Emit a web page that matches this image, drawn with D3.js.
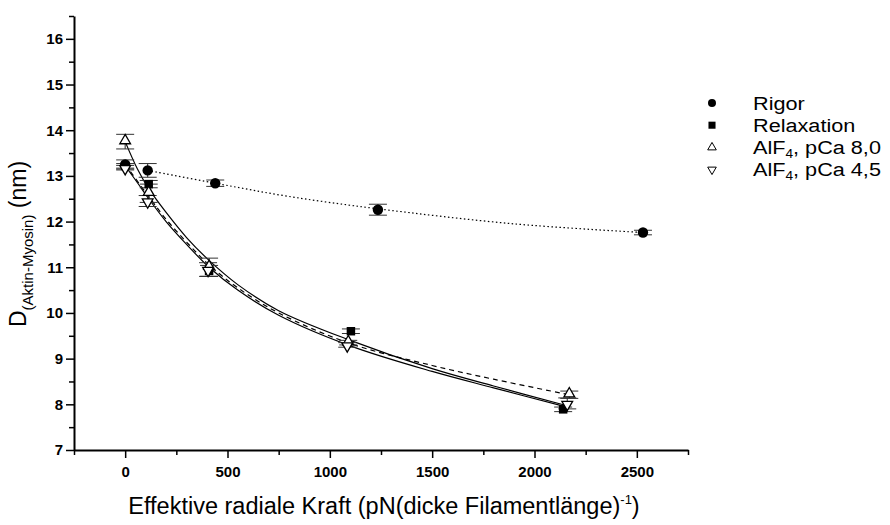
<!DOCTYPE html>
<html>
<head>
<meta charset="utf-8">
<script src="https://cdn.jsdelivr.net/npm/d3@7"></script>
<style>
  body { margin: 0; background: #fff; }
  svg { display: block; }
  .tick text { font-family: "Liberation Sans Narrow", "Liberation Sans", Arial, sans-serif; font-weight: bold; font-size: 15px; fill: #000; }
  .axis path, .axis line { stroke: #000; }
</style>
</head>
<body>
<div id="chart"></div>
<script>
// measured series (x = force, y = distance, e = error)
const rigorX = [0, 110, 440, 1235, 2530];
const rigorY = [13.25, 13.12, 12.84, 12.26, 11.76];
const rigorE = [0.1, 0.15, 0.07, 0.12, 0.05];

const relaxX = [0, 115, 410, 1103, 2140];
const relaxY = [13.22, 12.82, 10.92, 9.6, 7.89];
const relaxE = [0.05, 0.08, 0.12, 0.05, 0.05];

const pca80X = [0, 115, 410, 1090, 2170];
const pca80Y = [13.75, 12.62, 11.0, 9.35, 8.21];
const pca80E = [0.16, 0.2, 0.2, 0.05, 0.08];

const pca45X = [0, 110, 405, 1085, 2160];
const pca45Y = [13.18, 12.45, 10.95, 9.3, 8.02];
const pca45E = [0.05, 0.12, 0.15, 0.05, 0.12];

// fit curves
const fitRigorX = [110, 440, 800, 1235, 1900, 2530];
const fitRigorY = [13.12, 12.84, 12.55, 12.28, 11.95, 11.76];

const fitSolid1X = [0, 60, 115, 200, 300, 410, 550, 750, 1100, 1500, 1800, 2150];
const fitSolid1Y = [13.75, 13.15, 12.72, 12.2, 11.65, 11.15, 10.62, 10.05, 9.4, 8.78, 8.4, 7.98];

const fitSolid2X = [0, 60, 115, 200, 300, 410, 550, 750, 1100, 1500, 1800, 2150];
const fitSolid2Y = [13.22, 12.85, 12.5, 12.0, 11.5, 11.0, 10.5, 9.95, 9.28, 8.72, 8.36, 7.95];

const fitDashX = [0, 115, 200, 300, 410, 550, 750, 1100, 1500, 1800, 2170];
const fitDashY = [13.25, 12.55, 12.05, 11.55, 11.05, 10.55, 10.0, 9.33, 8.85, 8.55, 8.21];

const xMajor = [0, 500, 1000, 1500, 2000, 2500];
const xMinor = [-250, 250, 750, 1250, 1750, 2250, 2750];
const yMajor = [7, 8, 9, 10, 11, 12, 13, 14, 15, 16];
const yMinor = [7.5, 8.5, 9.5, 10.5, 11.5, 12.5, 13.5, 14.5, 15.5, 16.5];

const width = 890, height = 525;
const margin = { top: 16, right: 202, bottom: 75, left: 74 };

const svg = d3.select('#chart').append('svg')
    .attr('width', width)
    .attr('height', height);

const x = d3.scaleLinear()
    .domain([-250, 2750])
    .range([margin.left, width - margin.right]);

const y = d3.scaleLinear()
    .domain([7, 16.5])
    .range([height - margin.bottom, margin.top]);

function zip(xs, ys, es) {
    return xs.map((v, i) => ({ x: v, y: ys[i], e: es ? es[i] : 0 }));
}

// fit lines
const line = d3.line().x(d => x(d.x)).y(d => y(d.y)).curve(d3.curveCatmullRom.alpha(0.5));
const fits = [
    { data: zip(fitRigorX, fitRigorY), dash: '1.5,2.5' },
    { data: zip(fitSolid1X, fitSolid1Y), dash: null },
    { data: zip(fitSolid2X, fitSolid2Y), dash: null },
    { data: zip(fitDashX, fitDashY), dash: '5,4' }
];
svg.append('g')
    .selectAll('path')
    .data(fits)
    .join('path')
    .attr('d', d => line(d.data))
    .attr('fill', 'none')
    .attr('stroke', '#000')
    .attr('stroke-width', 1.2)
    .attr('stroke-dasharray', d => d.dash);

const series = [
    { name: 'Rigor', data: zip(rigorX, rigorY, rigorE), sym: d3.symbolCircle, size: 85, fill: '#000' },
    { name: 'Relaxation', data: zip(relaxX, relaxY, relaxE), sym: d3.symbolSquare, size: 72, fill: '#000' },
    { name: 'pCa 8,0', data: zip(pca80X, pca80Y, pca80E), sym: d3.symbolTriangle, size: 50, fill: '#fff', rot: 0 },
    { name: 'pCa 4,5', data: zip(pca45X, pca45Y, pca45E), sym: d3.symbolTriangle, size: 50, fill: '#fff', rot: 180 }
];

// error bars
series.forEach(s => {
    const g = svg.append('g');
    g.selectAll('line.v')
        .data(s.data)
        .join('line')
        .attr('x1', d => x(d.x)).attr('x2', d => x(d.x))
        .attr('y1', d => y(d.y - d.e)).attr('y2', d => y(d.y + d.e))
        .attr('stroke', '#222');
    [-1, 1].forEach(sgn => {
        g.selectAll('line.c' + sgn)
            .data(s.data)
            .join('line')
            .attr('x1', d => x(d.x) - 9).attr('x2', d => x(d.x) + 9)
            .attr('y1', d => y(d.y + sgn * d.e)).attr('y2', d => y(d.y + sgn * d.e))
            .attr('stroke', '#333');
    });
});

// markers
series.forEach(s => {
    svg.append('g')
        .selectAll('path')
        .data(s.data)
        .join('path')
        .attr('transform', d => `translate(${x(d.x)},${y(d.y) + (s.rot === 180 ? 1 : s.rot === 0 ? -1 : 0)}) rotate(${s.rot || 0})`)
        .attr('d', d3.symbol().type(s.sym).size(s.size))
        .attr('fill', s.fill)
        .attr('stroke', '#000')
        .attr('stroke-width', s.fill === '#fff' ? 1.3 : 0);
});

// axes
const xAxis = svg.append('g')
    .attr('class', 'axis')
    .attr('transform', `translate(0,${height - margin.bottom})`);
xAxis.call(d3.axisBottom(x).tickValues(xMajor).tickSize(8).tickSizeOuter(0).tickFormat(d3.format('d')));
xAxis.select('.domain').attr('stroke-width', 2);
xAxis.selectAll('.tick line').attr('stroke-width', 1.5);
xAxis.selectAll('.tick text').attr('dy', '1.05em');
svg.append('g')
    .attr('class', 'axis')
    .attr('transform', `translate(0,${height - margin.bottom})`)
    .call(d3.axisBottom(x).tickValues(xMinor).tickSize(5).tickFormat(''))
    .call(g => g.select('.domain').remove())
    .selectAll('.tick line').attr('stroke-width', 1.5);

const yAxis = svg.append('g')
    .attr('class', 'axis')
    .attr('transform', `translate(${margin.left},0)`);
yAxis.call(d3.axisLeft(y).tickValues(yMajor).tickSize(8).tickSizeOuter(0).tickFormat(d3.format('d')));
yAxis.select('.domain').attr('stroke-width', 2);
yAxis.selectAll('.tick line').attr('stroke-width', 1.5);
svg.append('g')
    .attr('class', 'axis')
    .attr('transform', `translate(${margin.left},0)`)
    .call(d3.axisLeft(y).tickValues(yMinor).tickSize(5).tickFormat(''))
    .call(g => g.select('.domain').remove())
    .selectAll('.tick line').attr('stroke-width', 1.5);

// axis titles
const font = '"Liberation Sans", Arial, sans-serif';
const xt = svg.append('text')
    .attr('x', 384).attr('y', 514)
    .attr('text-anchor', 'middle')
    .style('font-family', font).style('font-size', '23.5px');
xt.append('tspan').text('Effektive radiale Kraft (pN(dicke Filamentlänge)');
xt.append('tspan').attr('dy', -10).style('font-size', '13px').text('-1');
xt.append('tspan').attr('dy', 10).text(')');

const yt = svg.append('text')
    .attr('transform', 'translate(26,244) rotate(-90)')
    .attr('text-anchor', 'middle')
    .style('font-family', font).style('font-size', '23px');
yt.append('tspan').text('D');
yt.append('tspan').attr('dy', 7).style('font-size', '15px').text('(Aktin-Myosin)');
yt.append('tspan').attr('dy', -7).text(' (nm)');

// legend
const legend = svg.append('g').attr('transform', 'translate(712,103)');
series.forEach((s, i) => {
    const row = legend.append('g').attr('transform', `translate(0,${i * 22.2})`);
    row.append('path')
        .attr('transform', `rotate(${s.rot || 0})`)
        .attr('d', d3.symbol().type(s.sym).size(s.fill === '#fff' ? 32 : 50)())
        .attr('fill', s.fill)
        .attr('stroke', '#000')
        .attr('stroke-width', s.fill === '#fff' ? 1 : 0);
    const t = row.append('text')
        .attr('transform', 'translate(41,6.5) scale(1.14,1)')
        .style('font-family', font).style('font-size', '19px');
    if (i < 2) {
        t.text(s.name);
    } else {
        t.append('tspan').text('AlF');
        t.append('tspan').attr('dy', 4).style('font-size', '12px').text('4');
        t.append('tspan').attr('dy', -4).text(', ' + s.name);
    }
});
</script>
</body>
</html>
